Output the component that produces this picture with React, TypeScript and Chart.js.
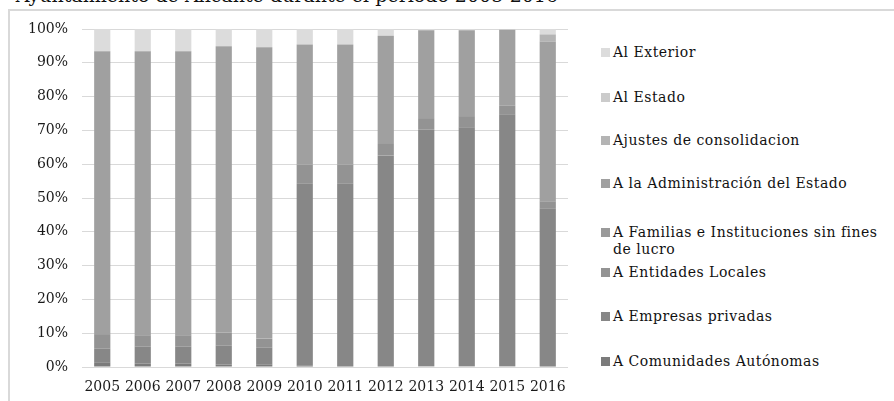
import { useEffect, useRef } from "react";
import { Chart, registerables } from "chart.js";

Chart.register(...registerables);

const years = ["2005", "2006", "2007", "2008", "2009", "2010", "2011", "2012", "2013", "2014", "2015", "2016"];

// bottom to top
const comunidadesAutonomas = [1.4, 1.0, 1.0, 0.7, 0.8, 0.5, 0.3, 0.3, 0.2, 0.2, 0.2, 0.3];
const empresasPrivadas = [4.1, 5.1, 5.1, 5.7, 4.9, 53.7, 53.9, 62.3, 70.0, 70.7, 74.4, 46.5];
const entidadesLocales = [4.0, 3.3, 3.3, 3.7, 2.7, 5.7, 5.7, 3.4, 3.2, 3.1, 2.7, 2.2];
const familiasInstituciones = [0, 0, 0, 0, 0, 0, 0, 0, 0, 0, 0, 0];
const administracionEstado = [83.9, 84.0, 84.0, 84.8, 86.2, 35.5, 35.5, 32.0, 26.2, 25.6, 22.5, 47.3];
const ajustesConsolidacion = [0, 0, 0, 0, 0, 0, 0, 0, 0, 0, 0, 2.1];
const alEstado = [0, 0, 0, 0, 0, 0, 0, 0, 0, 0, 0, 0];
const alExterior = [6.6, 6.6, 6.6, 5.1, 5.4, 4.6, 4.6, 2.0, 0.4, 0.4, 0.2, 1.6];

const seriesLabels = [
  "A Comunidades Autónomas",
  "A Empresas privadas",
  "A Entidades Locales",
  "A Familias e Instituciones sin fines de lucro",
  "A la Administración del Estado",
  "Ajustes de consolidacion",
  "Al Estado",
  "Al Exterior",
];
const seriesValues = [
  comunidadesAutonomas,
  empresasPrivadas,
  entidadesLocales,
  familiasInstituciones,
  administracionEstado,
  ajustesConsolidacion,
  alEstado,
  alExterior,
];
const seriesColors = ["#7b7b7b", "#878787", "#939393", "#9a9a9a", "#a0a0a0", "#b4b4b4", "#cbcbcb", "#dcdcdc"];

const yTicks = [0, 10, 20, 30, 40, 50, 60, 70, 80, 90, 100];
const titleText = "Ayuntamiento de Alicante durante el periodo 2005-2016";

// legend vertical centres (top to bottom order of the legend)
const legendTops = [53, 98, 141, 184, 233, 273, 317, 362];

const FONT = "'DejaVu Serif', serif";

export default function App() {
  const ref = useRef<HTMLCanvasElement>(null);

  useEffect(() => {
    document.body.style.margin = "0";
    const canvas = ref.current;
    if (!canvas) return;
    const chart = new Chart(canvas, {
      type: "bar",
      data: {
        labels: years,
        datasets: seriesLabels.map((label, i) => ({
          label,
          data: seriesValues[i],
          backgroundColor: seriesColors[i],
          borderWidth: 0,
          barPercentage: 0.4,
          categoryPercentage: 1,
        })),
      },
      options: {
        animation: false,
        responsive: false,
        maintainAspectRatio: false,
        layout: { padding: { top: 29, right: 12, left: 0, bottom: 0 } },
        plugins: {
          legend: { display: false },
          tooltip: { enabled: false },
          title: { display: false },
        },
        scales: {
          x: {
            stacked: true,
            grid: { display: false, drawTicks: false },
            border: { display: false },
            ticks: {
              padding: 12,
              color: "#1a1a1a",
              font: { family: FONT, size: 14 },
              maxRotation: 0,
              autoSkip: false,
            },
            afterFit: (s: any) => {
              s.height = 34;
            },
          },
          y: {
            stacked: true,
            min: 0,
            max: 100,
            afterBuildTicks: (s: any) => {
              s.ticks = yTicks.map((v) => ({ value: v }));
            },
            ticks: {
              padding: 14,
              color: "#1a1a1a",
              font: { family: FONT, size: 14 },
              callback: (v: any) => v + "%",
            },
            grid: { color: "#d9d9d9", drawTicks: false, lineWidth: 1 },
            border: { display: false },
            afterFit: (s: any) => {
              s.width = 82;
            },
          },
        },
      },
    });
    return () => chart.destroy();
  }, []);

  const legendOrder = seriesLabels.map((_, i) => seriesLabels.length - 1 - i);

  return (
    <div style={{ position: "relative", width: 894, height: 401, overflow: "hidden", background: "#fff" }}>
      <div
        style={{
          position: "absolute",
          left: 0,
          top: 0,
          width: 558,
          height: 9,
          overflow: "hidden",
        }}
      >
        <div
          style={{
            position: "absolute",
            right: 0,
            top: -15,
            whiteSpace: "nowrap",
            fontFamily: FONT,
            fontSize: 19,
            lineHeight: "20px",
            color: "#111",
          }}
        >
          {titleText}
        </div>
      </div>
      <div
        style={{
          position: "absolute",
          left: 8,
          top: 9,
          width: 1000,
          height: 1000,
          borderTop: "2px solid #d9d9d9",
          borderLeft: "2px solid #d9d9d9",
          boxSizing: "border-box",
        }}
      />
      <canvas ref={ref} width={580} height={401} style={{ position: "absolute", left: 0, top: 0 }} />
      {legendOrder.map((idx, k) => (
        <div
          key={idx}
          style={{
            position: "absolute",
            left: 601,
            top: legendTops[k] - 9,
            width: 290,
            fontFamily: FONT,
            fontSize: 14,
            lineHeight: "17px",
            letterSpacing: "0.5px",
            color: "#111",
            paddingLeft: 12,
            boxSizing: "border-box",
          }}
        >
          <span
            style={{
              position: "absolute",
              left: 0,
              top: 4,
              width: 9,
              height: 9,
              background: seriesColors[idx],
            }}
          />
          {seriesLabels[idx]}
        </div>
      ))}
    </div>
  );
}
